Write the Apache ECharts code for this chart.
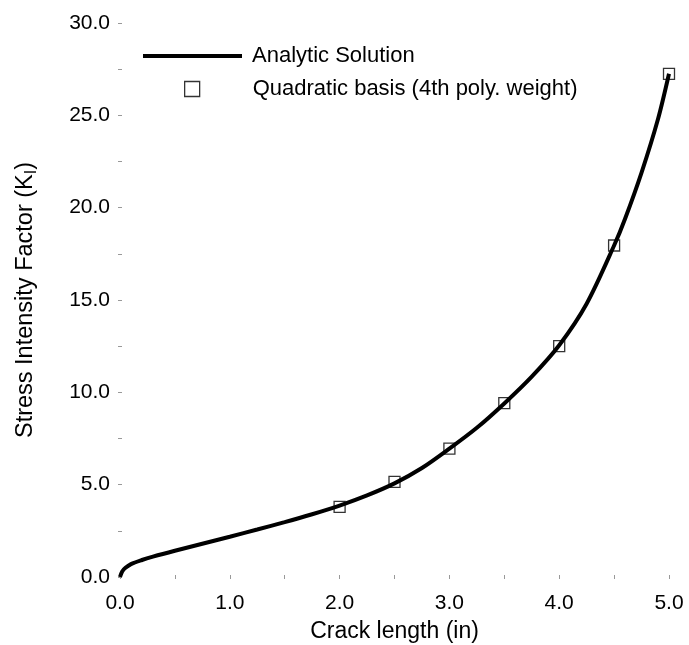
<!DOCTYPE html>
<html>
<head>
<meta charset="utf-8">
<script src="https://cdn.jsdelivr.net/npm/echarts@6/dist/echarts.min.js"></script>
<style>
html,body{margin:0;padding:0;background:#fff;}
#c{width:689px;height:645px;}
</style>
</head>
<body>
<div id="c"></div>
<script>
// Analytic solution curve
const analyticX = [0, 0.02, 0.05, 0.1, 0.2, 0.3, 0.5, 0.75, 1.0, 1.25, 1.5, 1.75, 2.0, 2.25, 2.5, 2.75, 3.0, 3.25, 3.5, 3.75, 4.0, 4.25, 4.5, 4.6, 4.75, 4.9, 5.0];
const analyticY = [0, 0.3, 0.5, 0.7, 0.92, 1.1, 1.42, 1.8, 2.18, 2.57, 2.97, 3.4, 3.87, 4.42, 5.07, 5.9, 6.95, 8.08, 9.4, 10.85, 12.55, 14.8, 17.95, 19.4, 21.9, 24.8, 27.25];
// Quadratic basis (4th poly. weight) markers
const quadX = [2.0, 2.5, 3.0, 3.5, 4.0, 4.5, 5.0];
const quadY = [3.8, 5.15, 6.95, 9.42, 12.5, 17.95, 27.25];
const xTicks = ['0.0','1.0','2.0','3.0','4.0','5.0'];

const font = 'Liberation Sans, Arial, Helvetica, sans-serif';
const chart = echarts.init(document.getElementById('c'));
const tickStyle = {show:true, inside:true, length:2, lineStyle:{color:'#999', width:1}};
const minorStyle = {show:true, splitNumber:2, length:2, lineStyle:{color:'#999', width:1}};

chart.setOption({
  animation:false,
  backgroundColor:'#fff',
  grid:{left:120, right:20, top:23, bottom:68, containLabel:false, outerBoundsMode:'none'},
  legend:[
    {
      left:143, top:45, orient:'vertical', padding:0,
      itemWidth:99, itemHeight:4,
      data:[{name:'Analytic Solution', icon:'rect', itemStyle:{color:'#000', borderWidth:0}}],
      textStyle:{fontFamily:font, fontSize:22, color:'#000', lineHeight:22, padding:[0,0,0,5]}
    },
    {
      left:184, top:78, orient:'vertical', padding:0,
      itemWidth:15, itemHeight:15,
      data:[{name:'Quadratic basis (4th poly. weight)', icon:'rect',
             itemStyle:{color:'rgba(0,0,0,0)', borderColor:'#000', borderWidth:1.3}}],
      textStyle:{fontFamily:font, fontSize:22, color:'#000', lineHeight:22, padding:[0,0,0,48]}
    }
  ],
  xAxis:[
    {
      type:'value', min:0, max:5, interval:1,
      name:'Crack length (in)', nameLocation:'middle', nameGap:43,
      nameTextStyle:{fontFamily:font, fontSize:23, color:'#000'},
      axisLine:{show:false}, splitLine:{show:false},
      axisTick:tickStyle, minorTick:minorStyle,
      axisLabel:{margin:16, fontFamily:font, fontSize:21, color:'#000',
        formatter:function(v){ return xTicks[Math.round(v)]; }}
    },
    {
      type:'value', min:0, max:5, interval:1, position:'top',
      axisLine:{show:false}, splitLine:{show:false},
      axisTick:tickStyle, minorTick:minorStyle, axisLabel:{show:false}
    }
  ],
  yAxis:[
    {
      type:'value', min:0, max:30, interval:5,
      name:'{n|Stress Intensity Factor (K}{s|I}{n|)}', nameLocation:'middle', nameGap:80,
      nameTextStyle:{fontFamily:font, color:'#000',
        rich:{
          n:{fontFamily:font, fontSize:23.5, color:'#000', lineHeight:28},
          s:{fontFamily:font, fontSize:16, color:'#000', lineHeight:15, verticalAlign:'bottom'}
        }},
      axisLine:{show:false}, splitLine:{show:false},
      axisTick:tickStyle, minorTick:minorStyle,
      axisLabel:{margin:10, fontFamily:font, fontSize:21, color:'#000',
        formatter:function(v){ return v.toFixed(1); }}
    },
    {
      type:'value', min:0, max:30, interval:5, position:'right',
      axisLine:{show:false}, splitLine:{show:false},
      axisTick:tickStyle, minorTick:minorStyle, axisLabel:{show:false}
    }
  ],
  series:[
    {
      name:'Analytic Solution', type:'line', smooth:0.3, symbol:'none',
      data: analyticX.map((x,i)=>[x, analyticY[i]]),
      lineStyle:{color:'#000', width:4},
      itemStyle:{color:'#000'},
      z:2
    },
    {
      name:'Quadratic basis (4th poly. weight)', type:'scatter', symbol:'rect', symbolSize:11,
      data: quadX.map((x,i)=>[x, quadY[i]]),
      itemStyle:{color:'rgba(0,0,0,0)', borderColor:'#000', borderWidth:1.3},
      z:3
    }
  ]
});
</script>
</body>
</html>
